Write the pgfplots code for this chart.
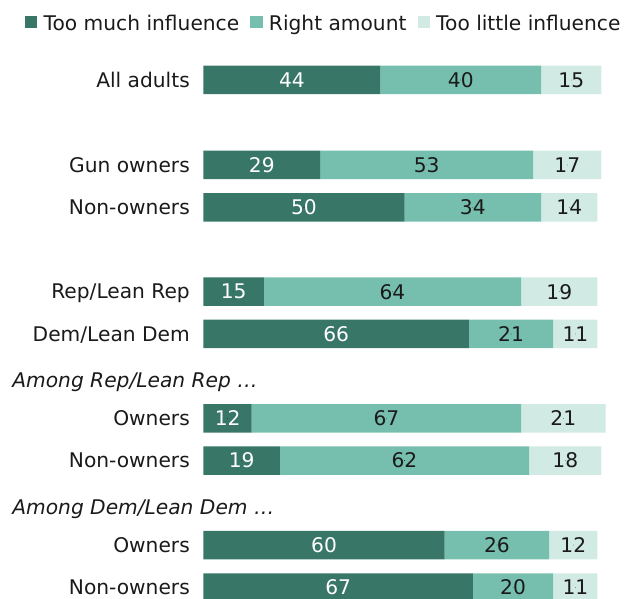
\documentclass[border=0pt]{standalone}
\usepackage{pgfplots}
\pgfplotsset{compat=1.18}
\usepackage{pgfplotstable}
\usepackage{fontspec}
\setmainfont{DejaVu Sans}
\definecolor{cA}{HTML}{387668}
\definecolor{cB}{HTML}{76BFAE}
\definecolor{cC}{HTML}{D2EAE4}
\definecolor{txt}{HTML}{1A1A1A}

\pgfplotstableread{
y a b c
80 44 40 15
165 29 53 17
207.5 50 34 14
291.7 15 64 19
334 66 21 11
418.3 12 67 21
460.5 19 62 18
545 60 26 12
587.5 67 20 11
}\data

\pgfplotsset{base/.style={
  width=633pt, height=599pt, scale only axis,
  xmin=-50.62, xmax=106.84, ymin=0, ymax=599, y dir=reverse,
  axis line style={draw=none}, tick style={draw=none},
  xtick=\empty,
  font=\fontsize{20.2}{24}\selectfont,
  /pgf/number format/assume math mode=true,
}}

\begin{document}
\begin{tikzpicture}
\begin{axis}[base,
  xbar stacked, bar width=28.5pt,
  ytick={80,165,207.5,291.7,334,418.3,460.5,545,587.5},
  yticklabels={All adults, Gun owners, Non-owners, Rep/Lean Rep, Dem/Lean Dem, Owners, Non-owners, Owners, Non-owners},
  yticklabel style={anchor=base east, inner sep=0pt, xshift=190pt, yshift=-7.3pt, text=txt, font=\fontsize{20.2}{24}\selectfont},
  legend columns=3,
  legend image code/.code={\fill[#1] (0pt,-4.6pt) rectangle (12.4pt,7.8pt);},
  legend style={at={(axis description cs:0.0395,0.975)}, anchor=north west, draw=none, fill=none,
    inner sep=0pt, outer sep=0pt, nodes={inner sep=0pt, outer sep=0pt, text=txt},
    font=\fontsize{20.2}{24}\selectfont,
    /tikz/every odd column/.append style={column sep=6.3pt},
    /tikz/every even column/.append style={column sep=11pt}},
]
\addplot[fill=cA, draw=none] table[x=a, y=y]{\data};
\addlegendentry{Too much influence}
\addplot[fill=cB, draw=none] table[x=b, y=y]{\data};
\addlegendentry{Right amount}
\addplot[fill=cC, draw=none] table[x=c, y=y]{\data};
\addlegendentry{Too little influence}
\end{axis}
\begin{axis}[base, ytick=\empty, clip=false,
  nodes near coords, point meta=explicit,
  every node near coord/.append style={anchor=center, font=\fontsize{20.2}{24}\selectfont},
]
\addplot[only marks, mark=*, mark size=0.01pt, mark options={draw=none, fill=none},
  nodes near coords style={text=white}]
  table[x expr=\thisrow{a}/2, y=y, meta=a]{\data};
\addplot[only marks, mark=*, mark size=0.01pt, mark options={draw=none, fill=none},
  nodes near coords style={text=txt}]
  table[x expr=\thisrow{a}+\thisrow{b}/2, y=y, meta=b]{\data};
\addplot[only marks, mark=*, mark size=0.01pt, mark options={draw=none, fill=none},
  nodes near coords style={text=txt}]
  table[x expr=\thisrow{a}+\thisrow{b}+\thisrow{c}/2, y=y, meta=c]{\data};
\node[anchor=base west, inner sep=0pt, text=txt, font=\fontsize{20.2}{24}\selectfont\itshape] at (axis cs:-47.6,388) {Among Rep/Lean Rep \dots};
\node[anchor=base west, inner sep=0pt, text=txt, font=\fontsize{20.2}{24}\selectfont\itshape] at (axis cs:-47.6,514) {Among Dem/Lean Dem \dots};
\end{axis}
\pgfresetboundingbox
\path[use as bounding box] (0,0) rectangle (633pt,599pt);
\end{tikzpicture}
\end{document}
